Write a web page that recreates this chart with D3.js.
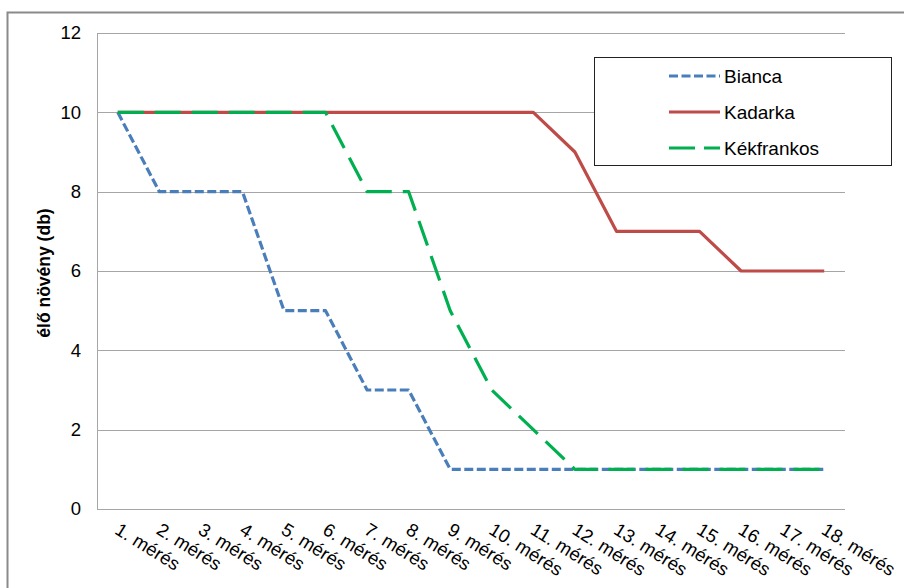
<!DOCTYPE html>
<html>
<head>
<meta charset="utf-8">
<script src="https://cdn.jsdelivr.net/npm/d3@7"></script>
<style>
  html, body { margin: 0; padding: 0; background: #fff; }
  svg { display: block; font-family: "Liberation Sans", Arial, sans-serif; }
</style>
</head>
<body>
<svg id="chart" width="904" height="588"></svg>
<script>
// Measurement labels (x axis)
const categories = ["1. mérés","2. mérés","3. mérés","4. mérés","5. mérés","6. mérés",
  "7. mérés","8. mérés","9. mérés","10. mérés","11. mérés","12. mérés",
  "13. mérés","14. mérés","15. mérés","16. mérés","17. mérés","18. mérés"];

// Living plants per variety at each measurement
const bianca     = [10, 8, 8, 8, 5, 5, 3, 3, 1, 1, 1, 1, 1, 1, 1, 1, 1, 1];
const kadarka    = [10, 10, 10, 10, 10, 10, 10, 10, 10, 10, 10, 9, 7, 7, 7, 6, 6, 6];
const kekfrankos = [10, 10, 10, 10, 10, 10, 8, 8, 5, 3, 2, 1, 1, 1, 1, 1, 1, 1];

const seriesNames = ["Bianca", "Kadarka", "Kékfrankos"];
const yTicks = [0, 2, 4, 6, 8, 10, 12];
const yTitle = "élő növény (db)";

const series = [
  { name: seriesNames[0], values: bianca,     color: "#4a7ebb", dash: "9,3.5" },
  { name: seriesNames[1], values: kadarka,    color: "#be4b48", dash: null },
  { name: seriesNames[2], values: kekfrankos, color: "#00b050", dash: "26,11" }
];

const svg = d3.select("#chart");
const plot = { left: 97, right: 845, top: 33, bottom: 509 };

const x = d3.scaleBand().domain(categories).range([plot.left, plot.right]);
const y = d3.scaleLinear().domain([0, 12]).range([plot.bottom, plot.top]);

// Outer chart frame
svg.append("path")
  .attr("d", `M7.5,${600} L7.5,12.5 L${920},12.5`)
  .attr("fill", "none").attr("stroke", "#8a8a8a").attr("stroke-width", 2);

// Horizontal gridlines
svg.append("g")
  .selectAll("line").data(yTicks.filter(d => d > 0)).join("line")
  .attr("x1", plot.left).attr("x2", plot.right)
  .attr("y1", d => Math.round(y(d)) + 0.5).attr("y2", d => Math.round(y(d)) + 0.5)
  .attr("stroke", "#a6a6a6").attr("stroke-width", 1);

// Axes lines
svg.append("line")
  .attr("x1", plot.left + 0.5).attr("x2", plot.left + 0.5)
  .attr("y1", plot.top).attr("y2", plot.bottom + 0.5)
  .attr("stroke", "#a6a6a6");
svg.append("line")
  .attr("x1", plot.left).attr("x2", plot.right)
  .attr("y1", plot.bottom + 0.5).attr("y2", plot.bottom + 0.5)
  .attr("stroke", "#a6a6a6");

// Y axis labels
const yAxis = d3.axisLeft(y).tickValues(yTicks).tickSize(0).tickPadding(0);
const gy = svg.append("g").attr("transform", `translate(81,0)`).call(yAxis);
gy.select(".domain").remove();
gy.selectAll("text")
  .attr("font-size", 18.5).attr("fill", "#000")
  .attr("font-family", "Liberation Sans, Arial, sans-serif");

// Y axis title
svg.append("text")
  .attr("transform", `translate(50,273) rotate(-90)`)
  .attr("text-anchor", "middle")
  .attr("font-size", 17.5).attr("font-weight", "bold")
  .text(yTitle);

// X axis labels (rotated)
const xAxis = d3.axisBottom(x).tickSize(0).tickPadding(0);
const gx = svg.append("g").attr("transform", `translate(0,${plot.bottom})`).call(xAxis);
gx.select(".domain").remove();
gx.selectAll(".tick text")
  .attr("font-size", 18.5).attr("fill", "#000")
  .attr("font-family", "Liberation Sans, Arial, sans-serif")
  .attr("text-anchor", "start")
  .attr("dy", 0).attr("y", 0)
  .attr("transform", "translate(-4,24) rotate(32)");

// Series lines
const line = d3.line()
  .x((d, i) => x(categories[i]) + x.bandwidth() / 2)
  .y(d => y(d));

svg.append("g").selectAll("path").data(series).join("path")
  .attr("d", d => line(d.values))
  .attr("fill", "none")
  .attr("stroke", d => d.color)
  .attr("stroke-width", 3.2)
  .attr("stroke-linejoin", "round")
  .attr("stroke-dasharray", d => d.dash);

// Legend
const lg = svg.append("g");
lg.append("rect")
  .attr("x", 594.5).attr("y", 57.5).attr("width", 297).attr("height", 108)
  .attr("fill", "#fff").attr("stroke", "#222").attr("stroke-width", 1);
const rows = lg.selectAll("g.row").data(series).join("g")
  .attr("class", "row")
  .attr("transform", (d, i) => `translate(0,${76 + i * 36})`);
rows.append("line")
  .attr("x1", 669).attr("x2", 720).attr("y1", 0).attr("y2", 0)
  .attr("stroke", d => d.color).attr("stroke-width", 3.2)
  .attr("stroke-dasharray", d => d.dash ? (d.name === "Kékfrankos" ? "26,9" : "9,3.5") : null);
rows.append("text")
  .attr("x", 724).attr("y", 0).attr("dy", "0.35em")
  .attr("font-size", 19)
  .text(d => d.name);
</script>
</body>
</html>
